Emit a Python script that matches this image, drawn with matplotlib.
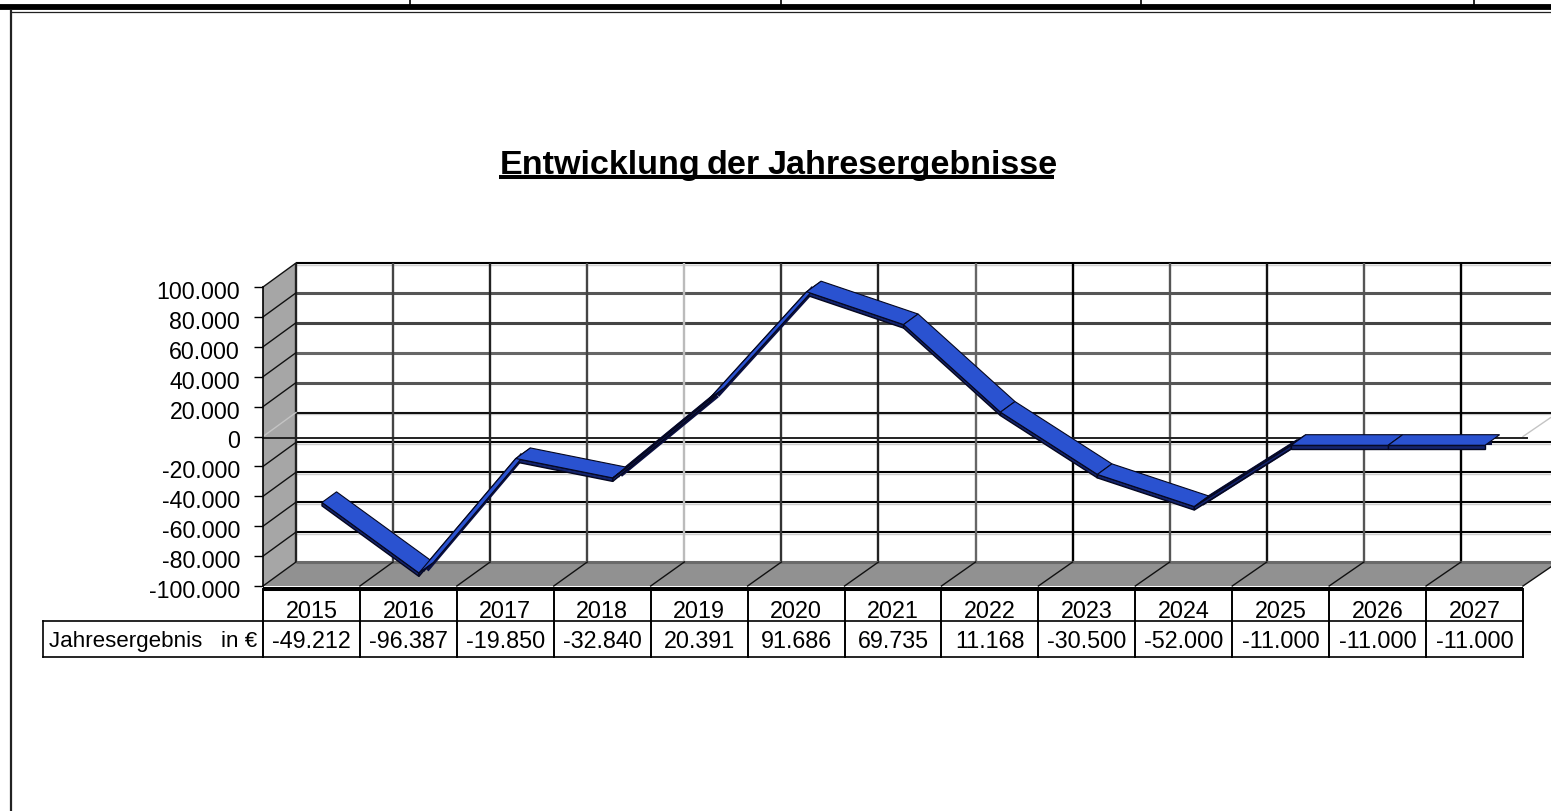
import matplotlib
matplotlib.use('Agg')
import matplotlib.pyplot as plt
from matplotlib.lines import Line2D
from matplotlib.transforms import Affine2D, ScaledTranslation, blended_transform_factory

W, H = 1551, 812

years = [2015, 2016, 2017, 2018, 2019, 2020, 2021, 2022, 2023, 2024, 2025, 2026, 2027]
results = [-49212, -96387, -19850, -32840, 20391, 91686, 69735, 11168, -30500, -52000, -11000, -11000, -11000]
y_ticks = [100000, 80000, 60000, 40000, 20000, 0, -20000, -40000, -60000, -80000, -100000]
row_label = 'Jahresergebnis   in €'
title_words = ['Entwicklung', 'der', 'Jahresergebnisse']

# colours of the back grid lines, they differ a lot in the original
hgrid_colors = ['#000000', '#555555', '#444444', '#666666', '#555555', '#111111',
                '#000000', '#000000', '#000000', '#000000']
vgrid_colors = ['#222222', '#444444', '#222222', '#444444', '#bbbbbb', '#333333', '#222222',
                '#666666', '#000000', '#555555', '#111111', '#555555', '#000000']


def thousands(v):
    return f'{v:,}'.replace(',', '.')


plt.rcParams['font.family'] = ['Liberation Sans', 'DejaVu Sans']

fig = plt.figure(figsize=(W / 100, H / 100), dpi=100, facecolor='white')
# plot box is the front plane of the fake 3d chart
ax = fig.add_axes([263 / W, 1 - 587 / H, 1260 / W, 299 / H])
ax.set_xlim(-0.5, 12.5)
ax.set_ylim(-100000, 100000)
ax.patch.set_visible(False)
for name in ['top', 'right', 'bottom']:
    ax.spines[name].set_visible(False)
ax.spines['left'].set_linewidth(1.2)
ax.spines['left'].set_zorder(6)
ax.set_xticks([])
ax.set_yticks(y_ticks)
ax.set_yticklabels([thousands(v) for v in y_ticks], fontsize=16.7)
ax.tick_params(axis='y', length=6.5, width=1.0, pad=10)
# labels sit a little below their ticks in the original
for lab in ax.get_yticklabels():
    lab.set_transform(lab.get_transform() + ScaledTranslation(0, -2 / 100, fig.dpi_scale_trans))

px = Affine2D().scale(1 / W, -1 / H).translate(0, 1) + fig.transFigure
data_x_px_y = blended_transform_factory(ax.transData, px)

# depth of the chart in data units (33 px right, 24 px up)
DX = 33 / (1260 / 13)
DY = 24 * 200000 / 299
left, right = -0.5, 12.5
bottom, top = -100000, 100000


def back_x(x):
    # back plane is a bit wider than the front plane
    return x + DX + (x - left) * 0.00165


# walls
ax.fill([left, back_x(left), back_x(left), left], [top, top + DY, bottom + DY, bottom],
        color='#a6a6a6', lw=0, zorder=1, clip_on=False)
ax.fill([left, back_x(left), back_x(right), right], [bottom, bottom + DY, bottom + DY, bottom],
        color='#919191', lw=0, zorder=1, clip_on=False)

# back grid
for v, c in zip(y_ticks[:-1], hgrid_colors):
    dark = c in ('#666666', '#555555', '#444444')
    ax.plot([back_x(left), back_x(right)], [v + DY, v + DY], color=c, lw=2.2 if dark else 1.5,
            zorder=2, clip_on=False, solid_capstyle='butt')
    if not dark:
        ax.plot([back_x(left), back_x(right)], [v + DY - 1300, v + DY - 1300], color='#cfcfcf', lw=1.0,
                zorder=1.5, clip_on=False)
for i, c in enumerate(vgrid_colors):
    x = back_x(i + left)
    ax.plot([x, x], [bottom + DY, top + DY], color=c, lw=1.7, zorder=2, clip_on=False,
            solid_capstyle='butt')
ax.plot([back_x(left), back_x(right)], [bottom + DY, bottom + DY], color='#6a6a6a', lw=2.2, zorder=2.5,
        clip_on=False, solid_capstyle='butt')

# diagonals on the side wall
for v in y_ticks[:-1]:
    c = '#c4c4c4' if v == 0 else '#111111'
    ax.plot([left, back_x(left)], [v, v + DY], color=c, lw=1.0, zorder=3, clip_on=False)
ax.plot([right, back_x(right)], [0, DY], color='#c4c4c4', lw=1.0, zorder=3, clip_on=False)

# diagonals on the floor
for i in range(len(years) + 1):
    ax.plot([i + left, back_x(i + left)], [bottom, bottom + DY], color='#111111', lw=1.0, zorder=3,
            clip_on=False)

# zero line
ax.plot([left, right + 0.04], [-700, -700], color='#222222', lw=1.4, zorder=3, clip_on=False)

# ribbon, one polygon per year step
FRONT = 0.32
BACK = 0.76
THICK = 3.5 * 200000 / 299
for i in range(len(years) - 1):
    x1, x2 = i, i + 1
    y1, y2 = results[i], results[i + 1]
    xa, xb = x1 + FRONT * DX, x2 + FRONT * DX
    ya, yb = y1 + FRONT * DY, y2 + FRONT * DY
    xc, xd = x1 + BACK * DX, x2 + BACK * DX
    yc, yd = y1 + BACK * DY, y2 + BACK * DY
    # dark core, only shows where the ribbon is seen edge-on
    ax.plot([(xa + xc) / 2, (xb + xd) / 2], [(ya + yc) / 2 - THICK / 2, (yb + yd) / 2 - THICK / 2],
            color='#0a0f40', lw=4.4, zorder=4, clip_on=False, solid_capstyle='butt')
    ax.fill([xa, xb, xb, xa], [ya, yb, yb - THICK, ya - THICK], facecolor='#14246e',
            edgecolor='#05071f', lw=1.0, zorder=4.5, clip_on=False)
for i in range(len(years) - 1):
    x1, x2 = i, i + 1
    y1, y2 = results[i], results[i + 1]
    ax.fill([x1 + FRONT * DX, x2 + FRONT * DX, x2 + BACK * DX, x1 + BACK * DX],
            [y1 + FRONT * DY, y2 + FRONT * DY, y2 + BACK * DY, y1 + BACK * DY],
            facecolor='#2a52d0', edgecolor='#05071f', lw=0.8, zorder=5, clip_on=False)

# table under the chart
ROW0, ROW1, ROW2 = 589.5, 622, 657.5
label_left = left - 220 / (1260 / 13)
ax.plot([left, right], [ROW0, ROW0], color='black', lw=2.9, transform=data_x_px_y, clip_on=False,
        solid_capstyle='butt', zorder=6)
ax.plot([label_left, right], [ROW1, ROW1], color='black', lw=1.2, transform=data_x_px_y,
        clip_on=False, zorder=6)
ax.plot([label_left, right], [ROW2, ROW2], color='black', lw=1.2, transform=data_x_px_y,
        clip_on=False, zorder=6)
ax.plot([label_left, label_left], [ROW1, ROW2], color='black', lw=1.2, transform=data_x_px_y,
        clip_on=False, zorder=6)
for i in range(len(years) + 1):
    ax.plot([i + left, i + left], [ROW0, ROW2], color='black', lw=1.4, transform=data_x_px_y,
            clip_on=False, zorder=6)
for i, (year, val) in enumerate(zip(years, results)):
    ax.text(i, 612, str(year), ha='center', va='center', fontsize=16.8, transform=data_x_px_y)
    ax.text(i, 642, thousands(val), ha='center', va='center', fontsize=16.8, transform=data_x_px_y)
fig.text(49, 642, row_label, ha='left', va='center', fontsize=16.1, transform=px)

# title with underline, word gaps are narrower than the font's
for word, x in zip(title_words, [500, 707, 767]):
    fig.text(x, 174, word, ha='left', va='baseline', fontsize=24.6, fontweight='bold', transform=px)
fig.add_artist(Line2D([499, 1054], [178, 178], color='black', lw=2.9, transform=px, solid_capstyle='butt'))

# page frame and the rest of the sheet above
fig.add_artist(Line2D([0, W], [8, 8], color='black', lw=4.2, transform=px, solid_capstyle='butt'))
fig.add_artist(Line2D([11, W], [12.5, 12.5], color='#222222', lw=0.9, transform=px, solid_capstyle='butt'))
fig.add_artist(Line2D([11, 11], [11, H], color='#222222', lw=1.6, transform=px, solid_capstyle='butt'))
for x in [410, 781, 1141, 1474]:
    fig.add_artist(Line2D([x, x], [0, 6], color='black', lw=1.2, transform=px, solid_capstyle='butt'))

fig.savefig('out.png', dpi=100)
